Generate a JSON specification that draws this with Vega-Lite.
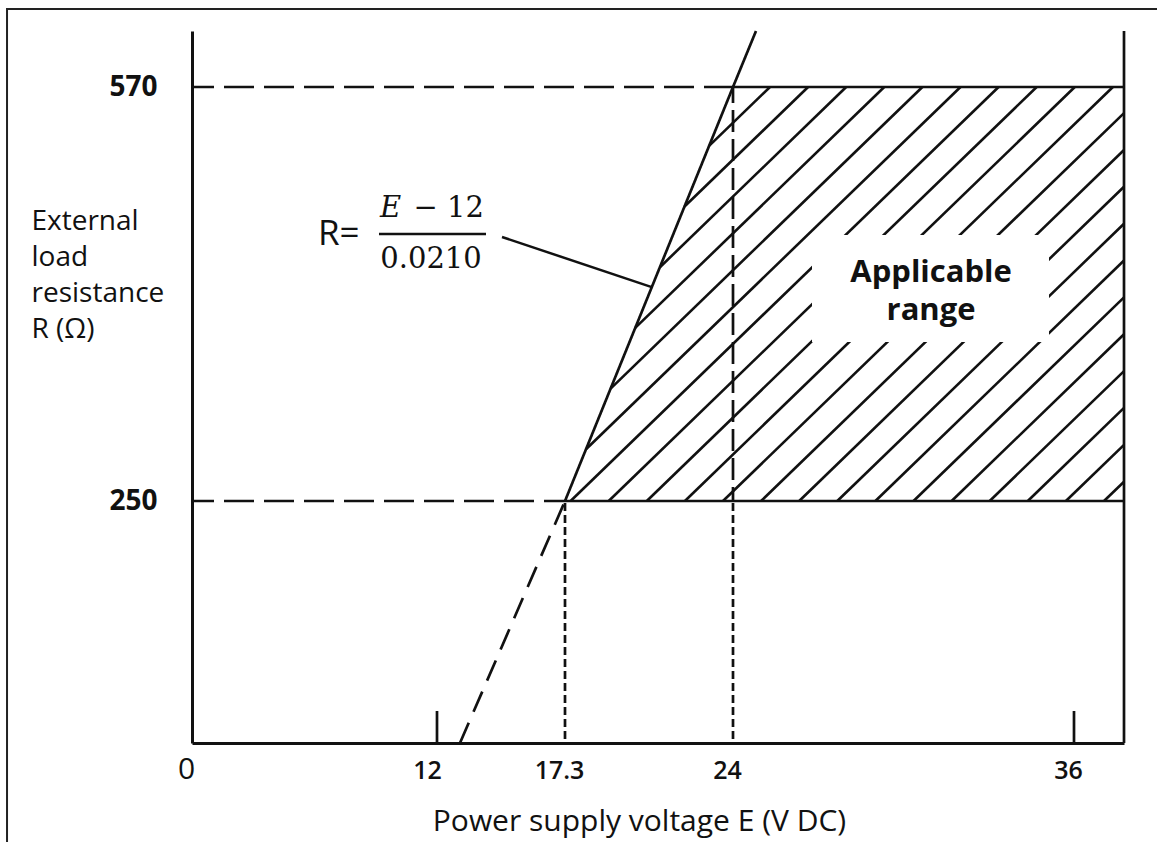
{
  "$schema": "https://vega.github.io/schema/vega-lite/v6.json",
  "autosize": "none",
  "width": 932,
  "height": 712,
  "padding": {"left": 192, "top": 31, "right": 33, "bottom": 99},
  "background": "white",
  "config": {"view": {"stroke": null}, "axis": {"grid": false, "labelColor": "#111", "titleColor": "#111", "domainColor": "#111"}},
  "datasets": {
    "hatch": [
      {"E1": 23.047, "R1": 524.5, "E2": 25.302, "R2": 570},
      {"E1": 22.066, "R1": 477.6, "E2": 26.643, "R2": 570},
      {"E1": 21.085, "R1": 430.7, "E2": 27.984, "R2": 570},
      {"E1": 20.1, "R1": 383.8, "E2": 29.324, "R2": 570},
      {"E1": 19.119, "R1": 336.9, "E2": 30.665, "R2": 570},
      {"E1": 18.137, "R1": 290.0, "E2": 32.006, "R2": 570},
      {"E1": 17.523, "R1": 250, "E2": 33.346, "R2": 570},
      {"E1": 19.043, "R1": 250, "E2": 34.687, "R2": 570},
      {"E1": 20.562, "R1": 250, "E2": 36.027, "R2": 570},
      {"E1": 22.082, "R1": 250, "E2": 37.323, "R2": 570},
      {"E1": 23.601, "R1": 250, "E2": 37.7, "R2": 549.8},
      {"E1": 24.989, "R1": 250, "E2": 37.7, "R2": 521.3},
      {"E1": 26.33, "R1": 250, "E2": 37.7, "R2": 492.9},
      {"E1": 27.67, "R1": 250, "E2": 37.7, "R2": 464.3},
      {"E1": 29.011, "R1": 250, "E2": 37.7, "R2": 435.9},
      {"E1": 30.352, "R1": 250, "E2": 37.7, "R2": 407.4},
      {"E1": 31.693, "R1": 250, "E2": 37.7, "R2": 378.9},
      {"E1": 33.033, "R1": 250, "E2": 37.7, "R2": 350.4},
      {"E1": 34.374, "R1": 250, "E2": 37.7, "R2": 322.0},
      {"E1": 35.715, "R1": 250, "E2": 37.7, "R2": 293.4},
      {"E1": 37.02, "R1": 250, "E2": 37.7, "R2": 264.9}
    ],
    "guides": [
      {"E1": 0, "R1": 570, "E2": 24, "R2": 570, "style": "dash"},
      {"E1": 24, "R1": 570, "E2": 37.7, "R2": 570, "style": "solid"},
      {"E1": 0, "R1": 250, "E2": 17.3, "R2": 250, "style": "dash"},
      {"E1": 17.3, "R1": 250, "E2": 37.7, "R2": 250, "style": "solid"},
      {"E1": 17.3, "R1": 0, "E2": 17.3, "R2": 250, "style": "dot"},
      {"E1": 24, "R1": 0, "E2": 24, "R2": 250, "style": "dot"},
      {"E1": 24, "R1": 250, "E2": 24, "R2": 570, "style": "dotlong"},
      {"E1": 37.7, "R1": 0, "E2": 37.7, "R2": 613, "style": "solid"},
      {"E1": 12, "R1": 0, "E2": 12, "R2": 33, "style": "solid"},
      {"E1": 36, "R1": 0, "E2": 36, "R2": 33, "style": "solid"}
    ],
    "curve": [
      {"E": 12.952, "R": 0, "part": "dash2"},
      {"E": 17.3, "R": 250, "part": "dash2"},
      {"E": 17.3, "R": 250, "part": "solid"},
      {"E": 24, "R": 570, "part": "solid"},
      {"E": 24.809, "R": 613, "part": "solid"}
    ]
  },
  "layer": [
    {
      "data": {"name": "hatch"},
      "mark": {"type": "rule", "color": "#111", "strokeWidth": 2.6},
      "encoding": {
        "x": {
          "field": "E1", "type": "quantitative",
          "scale": {"domain": [0, 12, 17.3, 24, 36, 37.7], "range": [0, 245, 373, 541, 882, 932], "nice": false, "zero": false},
          "axis": {
            "values": [0, 12, 17.3, 24, 36], "format": ".1~f",
            "ticks": false, "tickSize": 0, "domainWidth": 3,
            "labelFlush": false, "labelOverlap": false, "labelBound": false,
            "labelFont": "Open Sans",
            "labelFontSize": {"condition": {"test": "datum.value == 0", "value": 30}, "value": 25},
            "labelFontWeight": {"condition": {"test": "datum.value == 0", "value": "normal"}, "value": 600},
            "labelOffset": {"condition": {"test": "datum.value == 12", "value": -10}, "value": -6},
            "labelBaseline": "alphabetic", "labelPadding": 35,
            "title": "Power supply voltage E (V DC)",
            "titleFont": "Open Sans", "titleFontSize": 30, "titleFontWeight": "normal",
            "titleX": 447, "titleY": 87, "titleAlign": "center", "titleBaseline": "alphabetic"
          }
        },
        "x2": {"field": "E2"},
        "y": {
          "field": "R1", "type": "quantitative",
          "scale": {"domain": [0, 250, 570, 613], "range": [712, 470, 56, 0], "nice": false, "zero": false},
          "axis": {
            "values": [250, 570], "format": "d",
            "ticks": false, "tickSize": 0, "domainWidth": 3,
            "labelFont": "Open Sans", "labelFontSize": 28, "labelFontWeight": "bold",
            "labelPadding": 35, "labelBaseline": "alphabetic", "labelOffset": 8,
            "labelFlush": false, "labelOverlap": false,
            "title": ["External", "load", "resistance", "R (Ω)"],
            "titleFont": "Open Sans", "titleFontSize": 28, "titleFontWeight": "normal",
            "titleAngle": 0, "titleAlign": "left", "titleBaseline": "alphabetic",
            "titleX": -161, "titleY": 198, "titleLineHeight": 36
          }
        },
        "y2": {"field": "R2"}
      }
    },
    {
      "data": {"values": [{}]},
      "mark": {"type": "rect", "filled": false, "stroke": "#222", "strokeWidth": 2},
      "encoding": {
        "x": {"datum": -9.06, "type": "quantitative"},
        "x2": {"datum": 39.5},
        "y": {"datum": -110, "type": "quantitative"},
        "y2": {"datum": 629.9}
      }
    },
    {
      "data": {"values": [{}]},
      "mark": {"type": "rect", "fill": "white", "stroke": null},
      "encoding": {
        "x": {"datum": 26.78, "type": "quantitative"},
        "x2": {"datum": 35.12},
        "y": {"datum": 372.9, "type": "quantitative"},
        "y2": {"datum": 455.6}
      }
    },
    {
      "data": {"name": "guides"},
      "mark": {"type": "rule", "color": "#111", "strokeWidth": 2.7, "strokeDashOffset": 8},
      "encoding": {
        "x": {"field": "E1", "type": "quantitative"},
        "x2": {"field": "E2"},
        "y": {"field": "R1", "type": "quantitative"},
        "y2": {"field": "R2"},
        "strokeDash": {
          "field": "style", "type": "nominal", "legend": null,
          "scale": {"domain": ["dash", "dash2", "dot", "dotlong", "solid"], "range": [[30, 10], [22, 12], [8, 4], [22, 7], [1, 0]]}
        }
      }
    },
    {
      "data": {"name": "curve"},
      "mark": {"type": "line", "color": "#111", "strokeWidth": 2.7},
      "encoding": {
        "x": {"field": "E", "type": "quantitative"},
        "y": {"field": "R", "type": "quantitative"},
        "detail": {"field": "part"},
        "strokeDash": {"field": "part", "type": "nominal", "legend": null}
      }
    },
    {
      "data": {"values": [{}]},
      "mark": {"type": "rule", "color": "#111", "strokeWidth": 2.5},
      "encoding": {
        "x": {"datum": 9.159, "type": "quantitative"},
        "x2": {"datum": 14.029},
        "y": {"datum": 456.4, "type": "quantitative"},
        "y2": {"datum": 456.4}
      }
    },
    {
      "data": {"values": [{}]},
      "mark": {"type": "rule", "color": "#111", "strokeWidth": 2.5},
      "encoding": {
        "x": {"datum": 14.691, "type": "quantitative"},
        "x2": {"datum": 20.76},
        "y": {"datum": 454.1, "type": "quantitative"},
        "y2": {"datum": 415.3}
      }
    },
    {
      "data": {"values": [{}]},
      "mark": {"type": "text", "text": "R=", "font": "Open Sans", "fontSize": 35, "align": "left", "baseline": "alphabetic", "color": "#111"},
      "encoding": {
        "x": {"datum": 6.171, "type": "quantitative"},
        "y": {"datum": 447.9, "type": "quantitative"}
      }
    },
    {
      "data": {"values": [{}]},
      "mark": {"type": "text", "text": "E", "font": "DejaVu Serif", "fontStyle": "italic", "fontSize": 29, "align": "left", "baseline": "alphabetic", "color": "#111"},
      "encoding": {
        "x": {"datum": 9.208, "type": "quantitative"},
        "y": {"datum": 469.5, "type": "quantitative"}
      }
    },
    {
      "data": {"values": [{}]},
      "mark": {"type": "text", "text": "− 12", "font": "DejaVu Serif", "fontSize": 29, "align": "right", "baseline": "alphabetic", "color": "#111"},
      "encoding": {
        "x": {"datum": 13.946, "type": "quantitative"},
        "y": {"datum": 469.5, "type": "quantitative"}
      }
    },
    {
      "data": {"values": [{}]},
      "mark": {"type": "text", "text": "0.0210", "font": "DejaVu Serif", "fontSize": 29, "align": "center", "baseline": "alphabetic", "color": "#111"},
      "encoding": {
        "x": {"datum": 11.706, "type": "quantitative"},
        "y": {"datum": 430.1, "type": "quantitative"}
      }
    },
    {
      "data": {"values": [{}]},
      "mark": {"type": "text", "text": ["Applicable", "range"], "font": "Open Sans", "fontWeight": "bold", "fontSize": 31, "lineHeight": 38, "align": "center", "baseline": "alphabetic", "color": "#111"},
      "encoding": {
        "x": {"datum": 30.97, "type": "quantitative"},
        "y": {"datum": 419.3, "type": "quantitative"}
      }
    }
  ]
}
